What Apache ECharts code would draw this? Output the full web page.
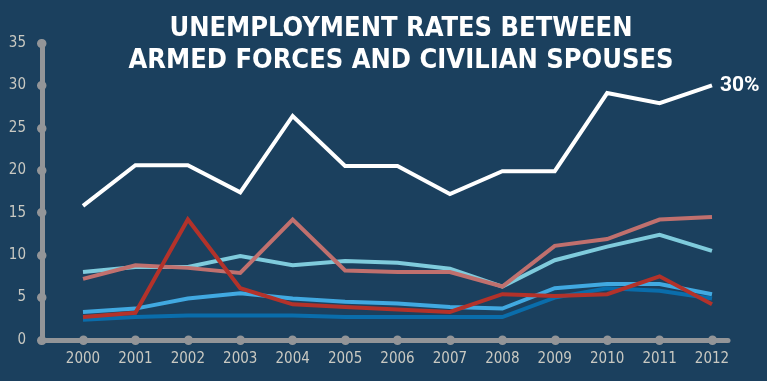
<!DOCTYPE html>
<html>
<head>
<meta charset="utf-8">
<script src="https://cdn.jsdelivr.net/npm/echarts@6/dist/echarts.min.js"></script>
<style>
  html, body { margin: 0; padding: 0; background: #1b405e; }
  #chart { width: 767px; height: 381px; }
</style>
</head>
<body>
<div id="chart"></div>
<script>
  var years = ['2000', '2001', '2002', '2003', '2004', '2005', '2006', '2007', '2008', '2009', '2010', '2011', '2012'];
  var whiteLine = [15.8, 20.6, 20.6, 17.4, 26.4, 20.5, 20.5, 17.2, 19.9, 19.9, 29.1, 27.9, 30];
  var cyanLine = [8.0, 8.6, 8.6, 9.9, 8.8, 9.3, 9.1, 8.4, 6.3, 9.4, 11.0, 12.4, 10.5];
  var pinkLine = [7.2, 8.8, 8.5, 7.9, 14.2, 8.2, 8.0, 8.0, 6.3, 11.1, 11.9, 14.2, 14.5];
  var redLine = [2.7, 3.2, 14.2, 6.1, 4.2, 3.9, 3.6, 3.3, 5.4, 5.2, 5.4, 7.5, 4.2];
  var lightBlueLine = [3.3, 3.7, 4.9, 5.5, 4.9, 4.5, 4.3, 3.9, 3.7, 6.1, 6.6, 6.6, 5.4];
  var darkBlueLine = [2.4, 2.7, 2.9, 2.9, 2.9, 2.7, 2.7, 2.7, 2.7, 5.0, 6.1, 5.8, 4.9];

  var axisGray = '#939598';
  var labelColor = '#c9c9c2';
  var narrowFont = '"DejaVu Sans Condensed", Roboto, sans-serif';

  function mkLine(data, color, z) {
    return {
      type: 'line',
      data: data,
      xAxisIndex: 0,
      yAxisIndex: 0,
      symbol: 'none',
      z: z,
      lineStyle: { color: color, width: 4, join: 'miter' }
    };
  }

  var chart = echarts.init(document.getElementById('chart'));
  var whiteSeries = mkLine(whiteLine, '#ffffff', 10);
  whiteSeries.endLabel = {
    show: true,
    formatter: '{c}%',
    color: '#ffffff',
    fontFamily: 'Roboto',
    fontWeight: 'bold',
    fontSize: 21,
    distance: 8
  };

  chart.setOption({
    backgroundColor: '#1b405e',
    animation: false,
    title: {
      text: 'UNEMPLOYMENT RATES BETWEEN\nARMED FORCES AND CIVILIAN SPOUSES',
      left: 396,
      textAlign: 'center',
      top: 8,
      textStyle: {
        color: '#ffffff',
        fontFamily: narrowFont,
        fontWeight: 'bold',
        fontSize: 27,
        lineHeight: 32
      }
    },
    grid: [
      { left: 83, right: 55, top: 43, bottom: 41 },   // series
      { left: 42, right: 39, top: 43, bottom: 41 }    // axis frame
    ],
    xAxis: [
      {
        type: 'category',
        gridIndex: 0,
        data: years,
        boundaryGap: false,
        axisLine: { show: false },
        axisTick: {
          show: true,
          length: 0.5,
          lineStyle: { color: axisGray, width: 9, cap: 'round' }
        },
        axisLabel: {
          color: labelColor,
          fontFamily: narrowFont,
          fontSize: 15,
          margin: 12
        },
        splitLine: { show: false }
      },
      {
        type: 'value',
        gridIndex: 1,
        min: 0,
        max: 1,
        axisLine: { show: true, lineStyle: { color: axisGray, width: 5, cap: 'round' } },
        axisTick: { show: false },
        axisLabel: { show: false },
        splitLine: { show: false }
      }
    ],
    yAxis: [
      {
        type: 'value',
        gridIndex: 0,
        min: 0,
        max: 35,
        show: false
      },
      {
        type: 'value',
        gridIndex: 1,
        min: 0,
        max: 35,
        interval: 5,
        axisLine: { show: true, lineStyle: { color: axisGray, width: 5, cap: 'round' } },
        axisTick: {
          show: true,
          length: 0.5,
          lineStyle: { color: axisGray, width: 9, cap: 'round' }
        },
        axisLabel: {
          color: labelColor,
          fontFamily: narrowFont,
          fontSize: 15,
          margin: 16
        },
        splitLine: { show: false }
      }
    ],
    series: [
      mkLine(darkBlueLine, '#0a6dab', 2),
      mkLine(lightBlueLine, '#41a9e1', 3),
      mkLine(cyanLine, '#7fcbdc', 4),
      mkLine(pinkLine, '#c0706e', 5),
      mkLine(redLine, '#b3322a', 6),
      whiteSeries
    ]
  });
</script>
</body>
</html>
